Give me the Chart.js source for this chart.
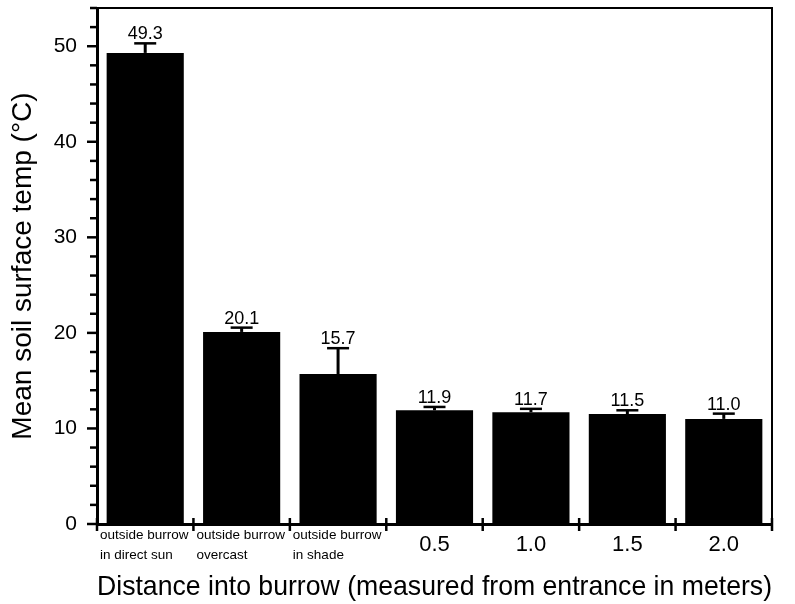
<!DOCTYPE html>
<html>
<head>
<meta charset="utf-8">
<script src="https://cdn.jsdelivr.net/npm/chart.js@4/dist/chart.umd.min.js"></script>
<style>
  html, body { margin: 0; padding: 0; background: #fff; }
  #wrap { width: 795px; height: 604px; }
</style>
</head>
<body>
<div id="wrap"><canvas id="c"></canvas></div>
<script>
// data
const categories = [['outside burrow', 'in direct sun'], ['outside burrow', 'overcast'], ['outside burrow', 'in shade'], '0.5', '1.0', '1.5', '2.0'];
const meanTemp = [49.3, 20.1, 15.7, 11.9, 11.7, 11.5, 11.0];
const errUp = [1.0, 0.45, 2.7, 0.35, 0.35, 0.4, 0.55];
const valueLabels = ['49.3', '20.1', '15.7', '11.9', '11.7', '11.5', '11.0'];
const yMajor = [0, 10, 20, 30, 40, 50];

const FONT = '"Liberation Sans", Arial, sans-serif';

// error bars, value labels, frame, tick marks, x labels
const decor = {
  id: 'decor',
  afterDatasetsDraw(chart) {
    const { ctx, chartArea: a, scales: { x, y } } = chart;
    ctx.save();
    ctx.strokeStyle = '#000';
    ctx.fillStyle = '#000';

    // frame top + right
    ctx.lineWidth = 2;
    ctx.beginPath();
    ctx.moveTo(a.left, a.top); ctx.lineTo(a.right, a.top); ctx.lineTo(a.right, a.bottom);
    ctx.stroke();

    // error bars + labels
    meanTemp.forEach((v, i) => {
      const cx = x.getPixelForValue(i);
      const y0 = y.getPixelForValue(v);
      const y1 = y.getPixelForValue(v + errUp[i]);
      ctx.lineWidth = 3;
      ctx.beginPath(); ctx.moveTo(cx, y0); ctx.lineTo(cx, y1); ctx.stroke();
      ctx.lineWidth = 2.5;
      ctx.beginPath(); ctx.moveTo(cx - 11, y1); ctx.lineTo(cx + 11, y1); ctx.stroke();
      ctx.font = '18px ' + FONT;
      ctx.textAlign = 'center'; ctx.textBaseline = 'alphabetic';
      ctx.fillText(valueLabels[i], cx, y1 - 4);
    });

    // y tick marks (major/minor)
    ctx.lineWidth = 2.5;
    y.ticks.forEach(t => {
      const py = y.getPixelForValue(t.value);
      const len = t.value % 10 === 0 ? 10 : 7;
      ctx.beginPath(); ctx.moveTo(a.left - len, py); ctx.lineTo(a.left, py); ctx.stroke();
    });

    // x tick marks at category boundaries + labels
    const half = (x.getPixelForValue(1) - x.getPixelForValue(0)) / 2;
    for (let i = 0; i <= categories.length; i++) {
      const px = i < categories.length ? x.getPixelForValue(i) - half : x.getPixelForValue(i - 1) + half;
      ctx.beginPath(); ctx.moveTo(px, a.bottom - 6); ctx.lineTo(px, a.bottom + 7); ctx.stroke();
    }
    categories.forEach((c, i) => {
      const cx = x.getPixelForValue(i);
      if (Array.isArray(c)) {
        ctx.font = '13.5px ' + FONT;
        ctx.textAlign = 'left';
        c.forEach((line, k) => ctx.fillText(line, cx - half + 3, a.bottom + 15 + k * 20));
      } else {
        ctx.font = '22px ' + FONT;
        ctx.textAlign = 'center';
        ctx.fillText(c, cx, a.bottom + 27);
      }
    });
    ctx.restore();
  }
};

new Chart(document.getElementById('c'), {
  type: 'bar',
  data: {
    labels: categories,
    datasets: [{
      data: meanTemp,
      backgroundColor: '#000',
      borderWidth: 0,
      barPercentage: 0.8,
      categoryPercentage: 1.0
    }]
  },
  options: {
    responsive: true,
    maintainAspectRatio: false,
    animation: false,
    layout: { padding: { top: 8, right: 23, left: 0, bottom: 0 } },
    plugins: { legend: { display: false }, tooltip: { enabled: false } },
    scales: {
      x: {
        grid: { display: false },
        border: { color: '#000', width: 3 },
        ticks: { display: false },
        title: {
          display: true,
          text: 'Distance into burrow (measured from entrance in meters)',
          color: '#000',
          font: { family: FONT, size: 28 },
          padding: { top: 0, bottom: 0 }
        },
        afterFit: s => { s.height = 80; s.paddingLeft = 0; s.paddingRight = 0; }
      },
      y: {
        min: 0, max: 54,
        grid: { display: false, drawTicks: false },
        border: { color: '#000', width: 3 },
        ticks: {
          stepSize: 2,
          autoSkip: false,
          padding: 20,
          color: '#000',
          font: { family: FONT, size: 21 },
          callback: v => (yMajor.includes(v) ? String(v) : '')
        },
        title: {
          display: true,
          text: 'Mean soil surface temp (°C)',
          color: '#000',
          font: { family: FONT, size: 28 },
          padding: { top: 6, bottom: 0 }
        },
        afterFit: s => { s.width = 97; s.paddingTop = 0; s.paddingBottom = 0; }
      }
    }
  },
  plugins: [decor]
});
</script>
</body>
</html>
